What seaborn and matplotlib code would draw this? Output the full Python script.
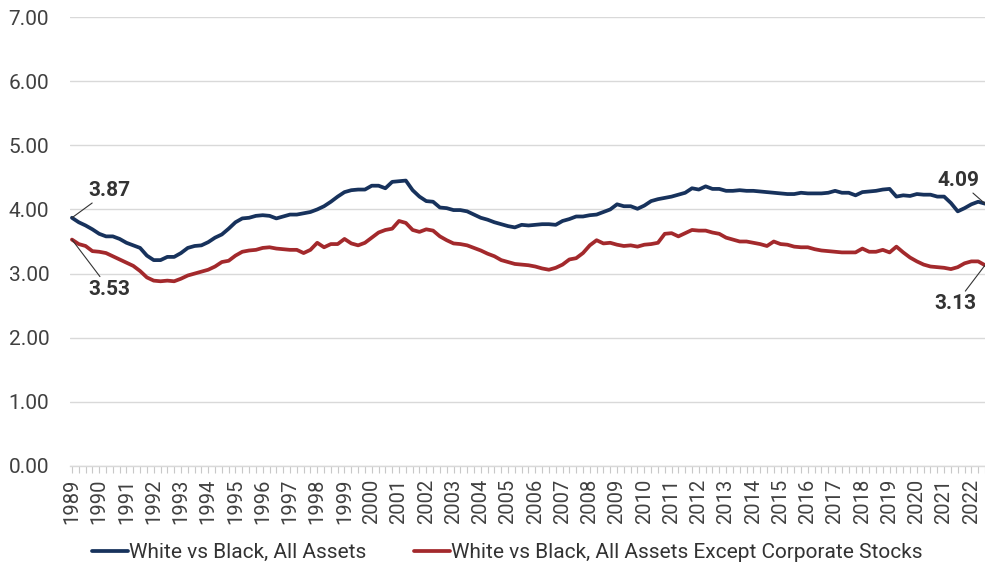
import numpy as np
import pandas as pd
import matplotlib
matplotlib.use("Agg")
import matplotlib.pyplot as plt
import seaborn as sns

# -------------------------------
# Data (quarterly, 1989Q1 - 2022Q3)
# -------------------------------
all_assets = [
    3.87, 3.80, 3.75, 3.69, 3.62, 3.58, 3.58, 3.54, 3.48, 3.44,
    3.40, 3.28, 3.21, 3.21, 3.26, 3.26, 3.32, 3.40, 3.43, 3.44,
    3.49, 3.56, 3.61, 3.70, 3.80, 3.86, 3.87, 3.90, 3.91, 3.90,
    3.86, 3.89, 3.92, 3.92, 3.94, 3.96, 4.00, 4.05, 4.12, 4.20,
    4.27, 4.30, 4.31, 4.31, 4.37, 4.37, 4.33, 4.43, 4.44, 4.45,
    4.30, 4.20, 4.13, 4.12, 4.03, 4.02, 3.99, 3.99, 3.97, 3.92,
    3.87, 3.84, 3.80, 3.77, 3.74, 3.72, 3.76, 3.75, 3.76, 3.77,
    3.77, 3.76, 3.82, 3.85, 3.89, 3.89, 3.91, 3.92, 3.96, 4.00,
    4.08, 4.05, 4.05, 4.01, 4.06, 4.13, 4.16, 4.18, 4.20, 4.23,
    4.26, 4.33, 4.31, 4.36, 4.32, 4.32, 4.29, 4.29, 4.30, 4.29,
    4.29, 4.28, 4.27, 4.26, 4.25, 4.24, 4.24, 4.26, 4.25, 4.25,
    4.25, 4.26, 4.29, 4.26, 4.26, 4.22, 4.27, 4.28, 4.29, 4.31,
    4.32, 4.20, 4.22, 4.21, 4.24, 4.23, 4.23, 4.20, 4.20, 4.10,
    3.97, 4.02, 4.08, 4.12, 4.09,
]

ex_corp_stocks = [
    3.53, 3.46, 3.43, 3.35, 3.34, 3.32, 3.27, 3.22, 3.17, 3.12,
    3.04, 2.94, 2.89, 2.88, 2.89, 2.88, 2.92, 2.97, 3.00, 3.03,
    3.06, 3.11, 3.18, 3.20, 3.28, 3.34, 3.36, 3.37, 3.40, 3.41,
    3.39, 3.38, 3.37, 3.37, 3.32, 3.37, 3.48, 3.41, 3.46, 3.46,
    3.54, 3.47, 3.44, 3.48, 3.56, 3.64, 3.68, 3.70, 3.82, 3.79,
    3.68, 3.65, 3.69, 3.67, 3.58, 3.52, 3.47, 3.46, 3.44, 3.40,
    3.36, 3.31, 3.27, 3.21, 3.18, 3.15, 3.14, 3.13, 3.11, 3.08,
    3.06, 3.09, 3.14, 3.22, 3.24, 3.32, 3.44, 3.52, 3.47, 3.48,
    3.45, 3.43, 3.44, 3.42, 3.45, 3.46, 3.48, 3.62, 3.63, 3.58,
    3.63, 3.68, 3.67, 3.67, 3.64, 3.62, 3.56, 3.53, 3.50, 3.50,
    3.48, 3.46, 3.43, 3.50, 3.46, 3.45, 3.42, 3.41, 3.41, 3.38,
    3.36, 3.35, 3.34, 3.33, 3.33, 3.33, 3.39, 3.34, 3.34, 3.37,
    3.33, 3.42, 3.33, 3.25, 3.19, 3.14, 3.11, 3.10, 3.09, 3.07,
    3.10, 3.16, 3.19, 3.19, 3.13,
]

series_names = ["White vs Black, All Assets",
                "White vs Black, All Assets Except Corporate Stocks"]
series_colors = ["#17325C", "#A3292C"]
year_labels = [str(y) for y in range(1989, 2023)]

# -------------------------------
# Build long table
# -------------------------------
n = len(all_assets)
t = 1989 + np.arange(n) / 4
df = pd.DataFrame({
    "t": np.concatenate([t, t]),
    "ratio": all_assets + ex_corp_stocks,
    "series": [series_names[0]] * n + [series_names[1]] * n,
})

# -------------------------------
# Plot
# -------------------------------
sns.set_theme(style="white")
plt.rcParams["font.family"] = ["Roboto", "DejaVu Sans"]

fig = plt.figure(figsize=(9.85, 5.71), dpi=100)
ax = fig.add_axes([0.0711, 0.1839, 0.9289, 0.7863])

sns.lineplot(data=df, x="t", y="ratio", hue="series", hue_order=series_names,
             palette=series_colors, linewidth=2.7, ax=ax, legend=False)

ax.set_ylim(0, 7)
ax.set_xlim(1988.93, 2022.48)
ax.set_yticks(np.arange(0, 8))
ax.set_yticklabels([f"{v:.2f}" for v in range(0, 8)], fontsize=15, color="#404040")
ax.set_xticks([int(y) for y in year_labels])
ax.set_xticklabels(year_labels, rotation=90, fontsize=14.5, color="#404040")
ax.set_xticks(1989 + np.arange(n) / 4, minor=True)
ax.tick_params(axis="y", length=0, pad=15)
ax.tick_params(axis="x", which="both", length=5, width=0.8, color="#c8c8c8",
               bottom=True, pad=4)
ax.grid(axis="y", color="#d9d9d9", linewidth=1)
ax.set_axisbelow(True)
for s in ["top", "right", "left"]:
    ax.spines[s].set_visible(False)
ax.spines["bottom"].set_color("#d9d9d9")
ax.spines["bottom"].set_linewidth(1)
ax.set_xlabel("")
ax.set_ylabel("")

# -------------------------------
# End-point labels
# -------------------------------
arrow = dict(arrowstyle="-", color="#333333", lw=0.8, shrinkA=0, shrinkB=0)
lab = dict(fontsize=15, fontweight="bold", color="#333333", textcoords="offset points",
           arrowprops=arrow, annotation_clip=False)
ax.annotate(f"{all_assets[0]:.2f}", xy=(t[0], all_assets[0]), xytext=(12, 13),
            ha="left", va="bottom", **lab)
ax.annotate(f"{ex_corp_stocks[0]:.2f}", xy=(t[0], ex_corp_stocks[0]), xytext=(12, -29),
            ha="left", va="top", **lab)
ax.annotate(f"{all_assets[-1]:.2f}", xy=(t[-1], all_assets[-1]), xytext=(-4, 10),
            ha="right", va="bottom", **lab)
ax.annotate(f"{ex_corp_stocks[-1]:.2f}", xy=(t[-1], ex_corp_stocks[-1]), xytext=(-6, -21),
            ha="right", va="top", **lab)

# -------------------------------
# Legend
# -------------------------------
handles = [plt.Line2D([], [], color=c, linewidth=2.7) for c in series_colors]
fig.legend(handles, series_names, loc="center", bbox_to_anchor=(0.515, 0.032),
           ncol=2, frameon=False, fontsize=15, handlelength=1.7,
           handletextpad=0.05, columnspacing=2.3, labelcolor="#333333")

fig.savefig("out.png", dpi=100)
